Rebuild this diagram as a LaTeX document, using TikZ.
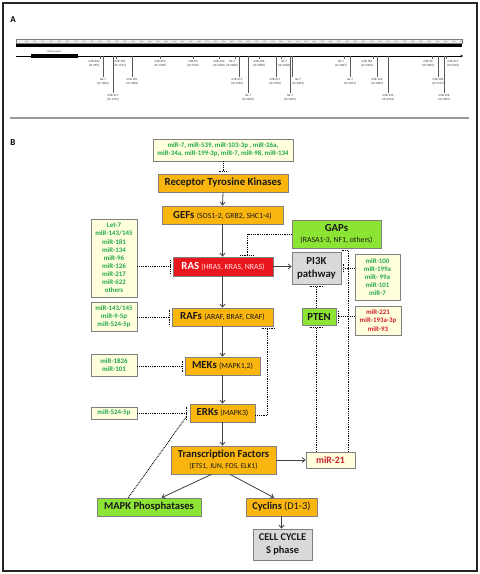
\documentclass[tikz,border=0pt]{standalone}
\usepackage{fontspec}
\setmainfont{Carlito}
\usetikzlibrary{arrows.meta}
\definecolor{orng}{RGB}{250,182,14}
\definecolor{redbx}{RGB}{234,22,30}
\definecolor{grnbx}{RGB}{140,228,52}
\definecolor{lyel}{RGB}{255,255,222}
\definecolor{grybx}{RGB}{217,217,217}
\definecolor{grntx}{RGB}{36,168,72}
\definecolor{redtx}{RGB}{204,32,40}
\definecolor{bordr}{RGB}{128,128,128}
\newcommand\bigtxt[1]{{\fontsize{10.8}{13}\selectfont\bfseries #1}}
\newcommand\smtxt[1]{{\fontsize{7.8}{9}\selectfont #1}}
\tikzset{
  bx/.style={draw=bordr, line width=0.7pt, inner sep=0pt, align=center, text=black!90},
  obox/.style={bx, fill=orng},
  gbox/.style={bx, fill=grnbx},
  gybox/.style={bx, fill=grybx},
  mbox/.style={bx, fill=lyel, text=grntx, font=\fontsize{6.9}{8.1}\selectfont\bfseries},
  rmbox/.style={mbox, text=redtx},
  arr/.style={draw=black!75, line width=0.8pt, -{Straight Barb[length=3pt,width=5pt]}},
  dotl/.style={draw=black, line width=0.9pt, dash pattern=on 0.9pt off 0.9pt},
  mlab/.style={font=\fontsize{3.2}{4.2}\selectfont, align=center, anchor=north, inner sep=0.3pt, text=black!80},
}
\begin{document}
\begin{tikzpicture}[x=1pt,y=-1pt]
\useasboundingbox (0,0) rectangle (480,574);
\draw[line width=1.2pt, black!85] (3,3) rectangle (477,571);
% ---------- Panel A ----------
\node[font=\fontsize{9}{10}\selectfont\bfseries] at (13,20) {A};
\draw[black!50, line width=0.4pt, fill=black!6] (16,39) rectangle (462,43.5);
\foreach \i in {1,...,54} {
  \draw[black!60, line width=0.3pt] ({18.2+8.22*\i},39) -- ({18.2+8.22*\i},40.2);
  \node[font=\fontsize{1.8}{2}\selectfont, inner sep=0pt, text=black!70] at ({18.2+8.22*\i},41.7) {\i00};
}
\fill[black] (16,44.2) rectangle (462,46.6);
\draw[line width=0.8pt, -{Stealth[length=2.5pt,width=2.5pt]}] (16,56) -- (463,56);
\fill[black] (31,54.3) rectangle (78,57.7);
\node[font=\fontsize{2.6}{3}\selectfont, inner sep=0pt, text=black!80] at (54,52) {coding region};
\foreach \lx/\ly/\tx/\mname/\nt in {100/58.5/94/miR-622/995, 103/77/103/let-7/1034, 113/93/113/miR-217/1155, 116/58.5/120/miR-181/1191, 132/77/132/miR-181/1300, 160/58.5/160/miR-622/1708, 193/58.5/193/miR-96/2146, 219/58.5/219/miR-143/2460, 235/58.5/232/let-7/2686, 239/77/237/miR-217/2732, 248/93/248/let-7/2823, 259/58.5/259/miR-126/2960, 276/77/275/miR-217/3196, 281/58.5/284/let-7/3238, 292/77/298/let-7/3303, 290.5/93/290/let-7/3355, 344/58.5/341/let-7/4007, 350/77/350/let-7/4075, 373/58.5/367/miR-181/4352, 377/77/377/miR-134/4402, 388/93/388/miR-143/4512, 432/58.5/428/miR-96/5005, 438/77/438/miR-182/5137, 446/58.5/453/miR-217/5216, 444/93/444/miR-126/5205} {
  \draw[black!65, line width=0.6pt] (\lx,56) -- (\lx,\ly);
  \node[mlab] at (\tx,\ly+0.8) {\mname\\(nt \nt)};
}
\draw[black!40, line width=1.3pt] (10,118) -- (469,118);
% ---------- Panel B ----------
\node[font=\fontsize{9}{10}\selectfont\bfseries] at (13,143) {B};
\node[mbox, minimum width=140pt, minimum height=22pt] (mtop) at (223,150) {miR-7, miR-539, miR-103-3p , miR-26a,\\miR-34a, miR-199-3p, miR-7, miR-98, miR-134};
\node[obox, minimum width=130pt, minimum height=18pt] (rtk) at (223,183) {\bigtxt{Receptor Tyrosine Kinases}};
\node[obox, minimum width=121pt, minimum height=18pt] (gefs) at (222.5,215) {\bigtxt{GEFs} \smtxt{(SOS1-2, GRB2, SHC1-4)}};
\node[bx, fill=redbx, text=white, minimum width=100pt, minimum height=19pt] (ras) at (223,266.5) {\bigtxt{RAS} \smtxt{\color{red!10}(HRAS, KRAS, NRAS)}};
\node[mbox, minimum width=46pt, minimum height=78pt] (mras) at (114,258) {Let-7\\miR-143/145\\miR-181\\miR-134\\miR-96\\miR-126\\miR-217\\miR-622\\others};
\node[gbox, minimum width=89pt, minimum height=28pt] (gaps) at (336.5,234) {\bigtxt{GAPs}\\[-1pt]\smtxt{(RASA1-3, NF1, others)}};
\node[gybox, minimum width=49pt, minimum height=32pt, font=\fontsize{10.8}{13}\selectfont\bfseries] (pi3k) at (316.5,268) {PI3K\\pathway};
\node[mbox, minimum width=45pt, minimum height=46pt] (mpi) at (377.5,277) {miR-100\\miR-199a\\miR- 99a\\miR-101\\miR-7};
\node[gbox, minimum width=34pt, minimum height=17pt] (pten) at (319,316.5) {\bigtxt{PTEN}};
\node[rmbox, minimum width=46pt, minimum height=29pt] (mpten) at (378,320.5) {miR-221\\miR-193a-3p\\miR-93};
\node[obox, minimum width=101pt, minimum height=18pt] (rafs) at (222.5,317) {\bigtxt{RAFs} \smtxt{(ARAF, BRAF, CRAF)}};
\node[mbox, minimum width=46pt, minimum height=29pt] (mraf) at (114,316.5) {miR-143/145\\miR-9-5p\\miR-524-5p};
\node[obox, minimum width=75pt, minimum height=18pt] (meks) at (222.5,366) {\bigtxt{MEKs} \smtxt{(MAPK1,2)}};
\node[mbox, minimum width=46pt, minimum height=22pt] (mmek) at (114,365) {miR-1826\\miR-101};
\node[obox, minimum width=65pt, minimum height=18pt] (erks) at (222.5,413) {\bigtxt{ERKs} \smtxt{(MAPK3)}};
\node[mbox, minimum width=46pt, minimum height=12pt] (merk) at (114,413) {miR-524-5p};
\node[obox, minimum width=105pt, minimum height=28pt] (tf) at (223.5,460) {{\fontsize{10.6}{12}\selectfont\bfseries Transcription Factors}\\[-1pt]{\fontsize{7.5}{8.5}\selectfont (ETS1, JUN, FOS, ELK1)}};
\node[rmbox, minimum width=49pt, minimum height=16pt, font=\fontsize{9.8}{11}\selectfont\bfseries] (m21) at (330.5,460) {miR-21};
\node[gbox, minimum width=104pt, minimum height=18pt, font=\fontsize{10.6}{12}\selectfont\bfseries] (mapk) at (149,507) {MAPK Phosphatases};
\node[obox, minimum width=71pt, minimum height=18pt] (cyc) at (281.5,507) {{\fontsize{10.4}{12}\selectfont\bfseries Cyclins} {\fontsize{10.4}{12}\selectfont (D1-3)}};
\node[gybox, minimum width=59pt, minimum height=31pt, font=\fontsize{10.4}{12.5}\selectfont\bfseries] (cc) at (282.5,544.5) {CELL CYCLE\\S phase};
% main arrows
\draw[arr] (rtk.south) -- (gefs.south |- gefs.north);
\draw[arr] (gefs.south) -- (gefs.south |- ras.north);
\draw[arr] (ras.south -| gefs.south) -- (gefs.south |- rafs.north);
\draw[arr] (rafs.south) -- (rafs.south |- meks.north);
\draw[arr] (meks.south) -- (meks.south |- erks.north);
\draw[arr] (erks.south) -- (erks.south |- tf.north);
\draw[arr] (ras.east) -- (ras.east -| pi3k.west);
\draw[arr] (tf.east) -- (m21.west);
\draw[arr] ([xshift=-12pt]tf.south) -- ([xshift=12.7pt]mapk.north);
\draw[arr] ([xshift=6.5pt]tf.south) -- ([xshift=-7.5pt]cyc.north);
\draw[arr] (cyc.south) -- (cyc.south |- cc.north);
% inhibitions
\draw[dotl] (mtop.south) -- ([yshift=2pt]rtk.north);
\draw[dotl] ([xshift=-4.5pt,yshift=2pt]rtk.north) -- ([xshift=4.5pt,yshift=2pt]rtk.north);
\draw[dotl] (mras.east |- ras.west) -- ([xshift=-2.5pt]ras.west);
\draw[dotl] ([xshift=-2.5pt,yshift=6.5pt]ras.west) -- ([xshift=-2.5pt,yshift=-6.5pt]ras.west);
\draw[dotl] (gaps.west) -| ([xshift=24pt,yshift=1.5pt]ras.north);
\draw[dotl] ([xshift=17pt,yshift=1.5pt]ras.north) -- ([xshift=31pt,yshift=1.5pt]ras.north);
\draw[dotl] (mpi.west |- pi3k.east) -- ([xshift=2.5pt]pi3k.east);
\draw[dotl] ([xshift=2.5pt,yshift=4.5pt]pi3k.east) -- ([xshift=2.5pt,yshift=-4.5pt]pi3k.east);
\draw[dotl] (pten.north -| pi3k.south) -- ([yshift=-2.5pt]pi3k.south);
\draw[dotl] ([xshift=-7pt,yshift=-2.5pt]pi3k.south) -- ([xshift=7pt,yshift=-2.5pt]pi3k.south);
\draw[dotl] (mpten.west |- pten.east) -- ([xshift=2.5pt]pten.east);
\draw[dotl] ([xshift=2.5pt,yshift=5.5pt]pten.east) -- ([xshift=2.5pt,yshift=-5.5pt]pten.east);
\draw[dotl] (m21.north -| pi3k.south) -- ([yshift=-2.5pt]pten.south -| pi3k.south);
\draw[dotl] ([xshift=-7pt,yshift=-2.5pt]pten.south -| pi3k.south) -- ([xshift=7pt,yshift=-2.5pt]pten.south -| pi3k.south);
\draw[dotl] ([xshift=17.5pt]m21.north) |- ([xshift=5pt,yshift=-2pt]gaps.south);
\draw[dotl] (mraf.east |- rafs.west) -- ([xshift=-2.5pt]rafs.west);
\draw[dotl] ([xshift=-2.5pt,yshift=7.5pt]rafs.west) -- ([xshift=-2.5pt,yshift=-7.5pt]rafs.west);
\draw[dotl] (mmek.east |- meks.west) -- ([xshift=-2.5pt]meks.west);
\draw[dotl] ([xshift=-2.5pt,yshift=5.5pt]meks.west) -- ([xshift=-2.5pt,yshift=-5.5pt]meks.west);
\draw[dotl] (merk.east |- erks.west) -- ([xshift=-3.5pt]erks.west);
\draw[dotl] ([xshift=-3.5pt,yshift=6.5pt]erks.west) -- ([xshift=-3.5pt,yshift=-6.5pt]erks.west);
\draw[dotl] ([yshift=-2pt]erks.east) -| ([xshift=45pt,yshift=-2.5pt]rafs.south);
\draw[dotl] ([xshift=39pt,yshift=-2.5pt]rafs.south) -- ([xshift=52pt,yshift=-2.5pt]rafs.south);
\draw[dotl] ([xshift=-20.7pt]mapk.north) -- ([xshift=-3.5pt,yshift=-4pt]erks.west);
\end{tikzpicture}
\end{document}
